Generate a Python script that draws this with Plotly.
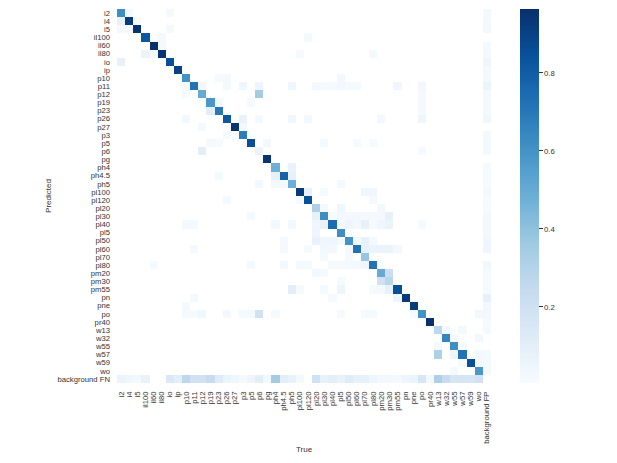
import plotly.graph_objects as go

pred_labels = ["i2","i4","i5","il100","il60","il80","io","ip","p10","p11","p12","p19","p23","p26","p27","p3","p5","p6","pg","ph4","ph4.5","ph5","pl100","pl120","pl20","pl30","pl40","pl5","pl50","pl60","pl70","pl80","pm20","pm30","pm55","pn","pne","po","pr40","w13","w32","w55","w57","w59","wo","background FN"]
true_labels = pred_labels[:-1] + ["background FP"]

# row index in pred_labels -> {column index in true_labels: normalised share}
cells = {
0:{0:.62,1:.02,6:.02,45:.03},
1:{0:.08,1:.93,2:.015,45:.02},
2:{0:.02,1:.02,2:.96,6:.02,45:.03},
3:{3:.82,5:.02,23:.02},
4:{4:.96,5:.02,45:.02},
5:{3:.06,4:.02,5:.95,22:.015,31:.02,45:.02},
6:{0:.08,6:.85,45:.05},
7:{7:.9,45:.02},
8:{8:.6,12:.02,13:.02,27:.025,45:.02},
9:{8:.015,9:.72,10:.035,13:.02,15:.04,17:.05,21:.04,24:.03,25:.02,26:.02,27:.03,28:.015,29:.015,34:.04,37:.035,45:.06},
10:{8:.015,10:.5,17:.35,37:.02,45:.02},
11:{11:.58,12:.025,16:.015,37:.02,45:.02},
12:{11:.1,12:.7,37:.02,45:.02},
13:{8:.03,13:.82,15:.07,17:.02,21:.035,23:.025,32:.025,37:.05,45:.04},
14:{10:.02,14:.95,15:.025},
15:{13:.015,15:.68,45:.02},
16:{11:.02,12:.015,16:.85,18:.025,25:.02,29:.015,31:.015,45:.02},
17:{10:.1,17:.06,37:.015,45:.02},
18:{18:.95},
19:{19:.48,21:.07,45:.015},
20:{12:.02,19:.08,20:.78,21:.08,45:.015},
21:{17:.025,19:.03,20:.02,21:.48,27:.02,45:.015},
22:{22:.93,23:.08,25:.015,30:.04,31:.04,45:.025},
23:{13:.02,22:.015,23:.85,31:.02,45:.015},
24:{24:.32,25:.02,27:.04,32:.025,45:.015},
25:{16:.02,24:.08,25:.62,26:.015,27:.025,28:.03,29:.03,30:.02,31:.02,32:.02,33:.08,45:.03},
26:{8:.02,9:.02,19:.025,21:.03,24:.04,25:.07,26:.75,27:.02,28:.05,29:.025,30:.08,31:.015,32:.04,33:.06,37:.015,45:.03},
27:{24:.05,27:.62,45:.025},
28:{20:.02,24:.07,25:.04,26:.04,27:.02,28:.6,29:.025,30:.09,31:.02,45:.04},
29:{9:.02,20:.02,23:.015,25:.03,26:.03,28:.03,29:.72,30:.08,31:.06,32:.06,33:.06,34:.025,45:.04},
30:{25:.015,28:.015,30:.38},
31:{4:.015,16:.02,20:.025,22:.02,23:.02,26:.02,27:.02,28:.02,29:.03,30:.04,31:.72,45:.035},
32:{24:.025,25:.015,32:.5,33:.22,45:.015},
33:{27:.015,32:.2,33:.28,45:.015},
34:{21:.1,22:.015,25:.015,27:.05,31:.015,32:.02,33:.08,34:.85,45:.015},
35:{9:.02,26:.015,34:.05,35:.93,45:.08},
36:{8:.02,36:.92,45:.03},
37:{8:.015,9:.015,10:.04,13:.025,15:.02,16:.02,17:.2,19:.02,27:.015,30:.015,31:.015,36:.01,37:.6,44:.025,45:.03},
38:{38:.97,45:.015},
39:{39:.27,40:.025,42:.02,45:.02},
40:{40:.65,41:.02,44:.03},
41:{39:.02,41:.62,42:.015},
42:{39:.32,41:.05,42:.72,44:.025,45:.02},
43:{42:.015,43:.85,44:.025,45:.02},
44:{41:.02,44:.58,45:.02},
45:{0:.06,1:.04,2:.025,3:.07,6:.14,7:.1,8:.27,9:.2,10:.2,11:.24,12:.12,13:.06,14:.04,15:.02,16:.05,17:.1,18:.025,19:.35,20:.1,21:.07,22:.02,24:.2,25:.08,26:.1,27:.07,28:.12,29:.09,30:.09,31:.05,32:.025,33:.03,34:.02,35:.05,36:.06,37:.16,38:.03,39:.32,40:.24,41:.17,42:.17,43:.17,44:.2},
}

z = [[cells[r].get(c) for c in range(len(true_labels))] for r in range(len(pred_labels))]

blues = ["#f7fbff","#deebf7","#c6dbef","#9ecae1","#6baed6","#4292c6","#2171b5","#08519c","#08306b"]
scale = [[i / 8, col] for i, col in enumerate(blues)]

FONT = dict(family="Liberation Sans, Arial, sans-serif", size=7.7, color="#333333")

fig = go.Figure(go.Heatmap(
    z=z, x=list(range(46)), y=list(range(46)),
    colorscale=scale, zmin=0.005, zmax=0.964, hoverongaps=False,
    colorbar=dict(
        thickness=19, thicknessmode="pixels", len=1, lenmode="fraction",
        x=(520 - 117) / 374, xanchor="left", xpad=0, y=0.5, yanchor="middle", ypad=0,
        outlinewidth=0, ticks="outside", ticklen=4, tickwidth=1, tickcolor="#333333",
        tickvals=[.2, .4, .6, .8], ticktext=["0.2", "0.4", "0.6", "0.8"],
        tickfont=FONT,
    ),
))
fig.update_xaxes(
    range=[-.5, 45.5], tickmode="array", tickvals=list(range(46)), ticktext=true_labels,
    tickangle=-90, tickfont=FONT, showgrid=False, zeroline=False, showline=False,
    ticks="", ticklabelstandoff=6,
    title=dict(text="True", font=dict(family=FONT["family"], size=8, color="#333333"), standoff=3),
)
fig.update_yaxes(
    range=[45.5, -.5], tickmode="array", tickvals=list(range(46)), ticktext=pred_labels,
    tickfont=FONT, showgrid=False, zeroline=False, showline=False,
    ticks="", ticklabelstandoff=6,
    title=dict(text="Predicted", font=dict(family=FONT["family"], size=8, color="#333333"), standoff=4),
)
fig.update_layout(
    width=617, height=463, autosize=False,
    margin=dict(l=109, r=134, t=1, b=88, pad=0),
    paper_bgcolor="white", plot_bgcolor="white",
)
fig.write_html("out.html")
